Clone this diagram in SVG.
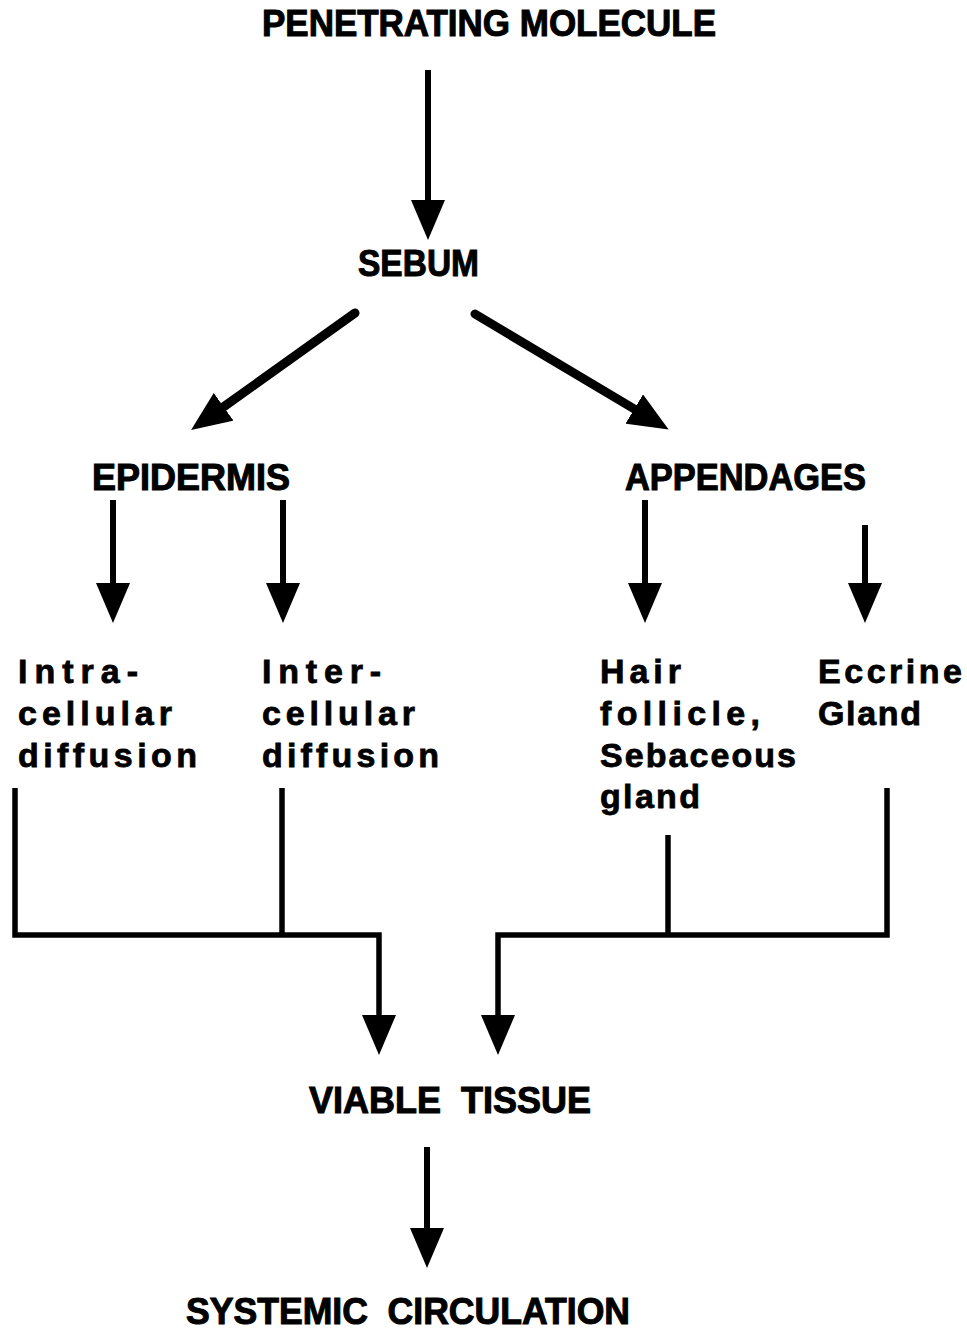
<svg xmlns="http://www.w3.org/2000/svg" width="967" height="1330" viewBox="0 0 967 1330">
<style>
.cap{font-family:"Liberation Sans",Arial,Helvetica,sans-serif;font-weight:bold;font-size:36px;fill:#000;stroke:#000;stroke-width:1;white-space:pre}
.low{font-family:"Liberation Sans",Arial,Helvetica,sans-serif;font-weight:bold;font-size:34px;fill:#000;stroke:#000;stroke-width:0.8}
.ln{fill:none;stroke:#000;stroke-width:6;stroke-linecap:butt;stroke-linejoin:miter}
.dg{stroke-width:9;stroke-linecap:round}
.br{stroke-width:5.5}
</style>
<defs>
<marker id="ah" markerUnits="userSpaceOnUse" viewBox="0 0 40 34" markerWidth="40" markerHeight="34" refX="2" refY="17" orient="auto">
<path d="M0,0 L40,17 L0,34 Z" fill="#000"/>
</marker>
</defs>
<rect width="967" height="1330" fill="#fff"/>
<g id="connectors">
<path class="ln" d="M428,70 V202" marker-end="url(#ah)"/>
<path class="ln dg" d="M355,313 L222,408" marker-end="url(#ah)"/>
<path class="ln dg" d="M475,314 L636,410" marker-end="url(#ah)"/>
<path class="ln" d="M113,500 V585" marker-end="url(#ah)"/>
<path class="ln" d="M283,500 V585" marker-end="url(#ah)"/>
<path class="ln" d="M645,500 V585" marker-end="url(#ah)"/>
<path class="ln" d="M865,525 V585" marker-end="url(#ah)"/>
<path class="ln br" d="M15,788 V935 H379 V1017" marker-end="url(#ah)"/>
<path class="ln br" d="M282,788 V935"/>
<path class="ln br" d="M887,788 V935 H498 V1017" marker-end="url(#ah)"/>
<path class="ln br" d="M668,835 V935"/>
<path class="ln" d="M427,1147 V1230" marker-end="url(#ah)"/>
</g>
<g id="penetrating-molecule"><text class="cap" x="262" y="36" textLength="454" lengthAdjust="spacingAndGlyphs">PENETRATING MOLECULE</text></g>
<g id="sebum"><text class="cap" x="358" y="276" textLength="121" lengthAdjust="spacingAndGlyphs">SEBUM</text></g>
<g id="epidermis"><text class="cap" x="92" y="490" textLength="198" lengthAdjust="spacingAndGlyphs">EPIDERMIS</text></g>
<g id="appendages"><text class="cap" x="625" y="490" textLength="241" lengthAdjust="spacingAndGlyphs">APPENDAGES</text></g>
<g id="intracellular">
<text class="low" x="18" y="683" textLength="120" lengthAdjust="spacing">Intra-</text>
<text class="low" x="18" y="725" textLength="154" lengthAdjust="spacing">cellular</text>
<text class="low" x="18" y="767" textLength="179" lengthAdjust="spacing">diffusion</text>
</g>
<g id="intercellular">
<text class="low" x="262" y="683" textLength="119" lengthAdjust="spacing">Inter-</text>
<text class="low" x="262" y="725" textLength="153" lengthAdjust="spacing">cellular</text>
<text class="low" x="262" y="767" textLength="177" lengthAdjust="spacing">diffusion</text>
</g>
<g id="hair-follicle">
<text class="low" x="600" y="683" textLength="81" lengthAdjust="spacing">Hair</text>
<text class="low" x="600" y="725" textLength="160" lengthAdjust="spacing">follicle,</text>
<text class="low" x="600" y="767" textLength="196" lengthAdjust="spacing">Sebaceous</text>
<text class="low" x="600" y="808" textLength="100" lengthAdjust="spacing">gland</text>
</g>
<g id="eccrine-gland">
<text class="low" x="818" y="683" textLength="144" lengthAdjust="spacing">Eccrine</text>
<text class="low" x="818" y="725" textLength="103" lengthAdjust="spacing">Gland</text>
</g>
<g id="viable-tissue"><text class="cap" x="309" y="1113" textLength="282" lengthAdjust="spacingAndGlyphs" xml:space="preserve">VIABLE  TISSUE</text></g>
<g id="systemic-circulation"><text class="cap" x="186" y="1324" textLength="444" lengthAdjust="spacingAndGlyphs" xml:space="preserve">SYSTEMIC  CIRCULATION</text></g>
</svg>
